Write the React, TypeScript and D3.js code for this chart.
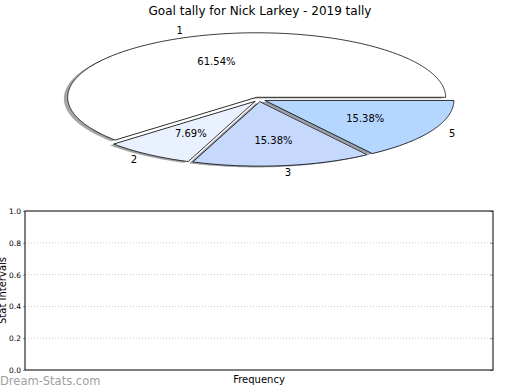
import React, { useEffect, useRef } from "react";
import * as d3 from "d3";

const categories = ["1", "2", "3", "5"];
const goals = [8, 1, 2, 2];
const sliceColors = ["#ffffff", "#eaf1fe", "#c6d9fd", "#b5d6ff"];
const yTicks = [0.0, 0.2, 0.4, 0.6, 0.8, 1.0];
const chartTitle = "Goal tally for Nick Larkey - 2019 tally";

export default function App() {
  const svgRef = useRef<SVGSVGElement | null>(null);

  useEffect(() => {
    const width = 520;
    const height = 390;
    const svg = d3.select(svgRef.current);
    svg.selectAll("*").remove();
    svg.attr("width", width).attr("height", height).attr("viewBox", `0 0 ${width} ${height}`);
    const font = "DejaVu Sans, sans-serif";

    svg.append("rect").attr("width", width).attr("height", height).attr("fill", "#ffffff");

    // title
    svg.append("text")
      .attr("x", 260).attr("y", 14.5)
      .attr("text-anchor", "middle")
      .attr("font-family", font).attr("font-size", 12)
      .text(chartTitle);

    // === pie (squashed like matplotlib on a non-equal aspect) ===
    const cx = 259, cy = 99.4, rx = 189, ry = 64.5;
    const explode = 0.035;
    const px = d3.scaleLinear().domain([-1, 1]).range([cx - rx, cx + rx]);
    const py = d3.scaleLinear().domain([-1, 1]).range([cy + ry, cy - ry]);

    const pie = d3.pie<number>().sort(null).startAngle(0).endAngle(2 * Math.PI);
    const arcs = pie(goals);
    const total = d3.sum(goals);

    const wedgePoints = (a0: number, a1: number, ox: number, oy: number) => {
      const pts: [number, number][] = [[ox, oy]];
      const n = Math.max(8, Math.ceil((a1 - a0) / 0.01));
      for (let i = 0; i <= n; i++) {
        const t = a0 + (a1 - a0) * (i / n);
        pts.push([ox + Math.cos(t), oy + Math.sin(t)]);
      }
      return pts;
    };
    const lineGen = d3.line<[number, number]>().x((d) => px(d[0])).y((d) => py(d[1]));

    const wedges = arcs.map((a, i) => {
      const mid = (a.startAngle + a.endAngle) / 2;
      const ox = explode * Math.cos(mid);
      const oy = explode * Math.sin(mid);
      return { a, i, mid, ox, oy };
    });

    // shadows
    const shadowG = svg.append("g").attr("transform", `translate(${-0.02 * rx},${0.02 * ry})`);
    wedges.forEach((w) => {
      const c = d3.rgb(sliceColors[w.i]);
      shadowG.append("path")
        .attr("d", lineGen(wedgePoints(w.a.startAngle, w.a.endAngle, w.ox, w.oy)) + "Z")
        .attr("fill", d3.rgb(c.r * 0.3, c.g * 0.3, c.b * 0.3).toString())
        .attr("fill-opacity", 0.5)
        .attr("stroke", "none");
    });

    wedges.forEach((w) => {
      svg.append("path")
        .attr("d", lineGen(wedgePoints(w.a.startAngle, w.a.endAngle, w.ox, w.oy)) + "Z")
        .attr("fill", sliceColors[w.i])
        .attr("stroke", "#000")
        .attr("stroke-width", 0.8)
        .attr("stroke-linejoin", "miter");
    });

    wedges.forEach((w) => {
      const lx = w.ox + 1.1 * Math.cos(w.mid);
      const ly = w.oy + 1.1 * Math.sin(w.mid);
      svg.append("text")
        .attr("x", px(lx)).attr("y", py(ly))
        .attr("dy", "0.35em")
        .attr("text-anchor", lx - w.ox > 0 ? "start" : "end")
        .attr("font-family", font).attr("font-size", 10)
        .text(categories[w.i]);

      const tx = w.ox + 0.6 * Math.cos(w.mid);
      const ty = w.oy + 0.6 * Math.sin(w.mid);
      svg.append("text")
        .attr("x", px(tx)).attr("y", py(ty))
        .attr("dy", "0.35em")
        .attr("text-anchor", "middle")
        .attr("font-family", font).attr("font-size", 10)
        .text(`${((w.a.value / total) * 100).toFixed(2)}%`);
    });

    // === empty axes below ===
    const left = 25, right = 493, top = 211, bottom = 370;
    const y = d3.scaleLinear().domain([0, 1]).range([bottom, top]);

    const grid = svg.append("g");
    yTicks.slice(1, -1).forEach((t) => {
      grid.append("line")
        .attr("x1", left).attr("x2", right)
        .attr("y1", y(t)).attr("y2", y(t))
        .attr("stroke", "#c8c8c8")
        .attr("stroke-width", 1)
        .attr("stroke-dasharray", "1,2");
    });

    const gy = svg.append("g")
      .attr("transform", `translate(${left},0)`)
      .call(d3.axisLeft(y).tickValues(yTicks).tickFormat(d3.format(".1f")).tickSize(2).tickPadding(2));
    gy.select(".domain").remove();
    gy.selectAll(".tick line").attr("stroke", "#999");
    gy.selectAll("text").attr("font-family", font).attr("font-size", 7.5).attr("fill", "#000");

    const gyr = svg.append("g")
      .attr("transform", `translate(${right},0)`)
      .call(d3.axisLeft(y).tickValues(yTicks).tickFormat(() => "").tickSize(3));
    gyr.select(".domain").remove();
    gyr.selectAll(".tick line").attr("stroke", "#999");

    svg.append("rect")
      .attr("x", left).attr("y", top)
      .attr("width", right - left).attr("height", bottom - top)
      .attr("fill", "none").attr("stroke", "#000").attr("stroke-width", 1);

    svg.append("text")
      .attr("transform", `translate(6,${(top + bottom) / 2}) rotate(-90)`)
      .attr("text-anchor", "middle")
      .attr("font-family", font).attr("font-size", 10)
      .text("Stat Intervals");

    svg.append("text")
      .attr("x", (left + right) / 2).attr("y", 383)
      .attr("text-anchor", "middle")
      .attr("font-family", font).attr("font-size", 10)
      .text("Frequency");

    svg.append("text")
      .attr("x", 0).attr("y", 385)
      .attr("font-family", font).attr("font-size", 11.5)
      .attr("fill", "#a0a0a0")
      .text("Dream-Stats.com");
  }, []);

  return (
    <div style={{ position: "absolute", left: 0, top: 0 }}>
      <svg ref={svgRef} style={{ display: "block" }}></svg>
    </div>
  );
}
